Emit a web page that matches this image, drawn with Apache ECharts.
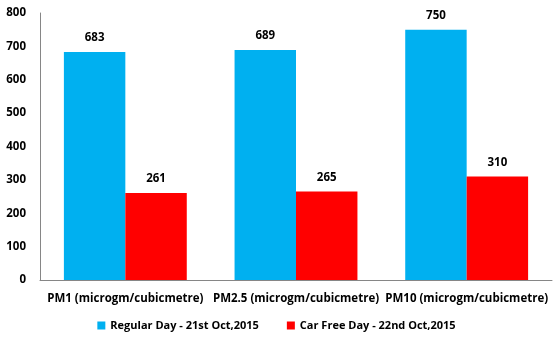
<!DOCTYPE html>
<html><head><meta charset="utf-8">
<script src="https://cdn.jsdelivr.net/npm/echarts@6/dist/echarts.min.js"></script>
<style>html,body{margin:0;padding:0;background:#fff}#c{width:553px;height:338px}</style>
</head><body><div id="c"></div>
<script>
const categories = ['PM1 (microgm/cubicmetre)', 'PM2.5 (microgm/cubicmetre)', 'PM10 (microgm/cubicmetre)'];
const regularDay = [683, 689, 750];
const carFreeDay = [261, 265, 310];
const seriesNames = ['Regular Day - 21st Oct,2015', 'Car Free Day - 22nd Oct,2015'];
const yTicks = {min: 0, max: 800, interval: 100};

const font = '"Open Sans", "DejaVu Sans", sans-serif';
const chart = echarts.init(document.getElementById('c'));
chart.setOption({
  animation: false,
  textStyle: {fontFamily: font},
  grid: {left: 40, right: 1, top: 13, bottom: 58, containLabel: false},
  legend: {
    bottom: 2, left: 'center', itemWidth: 8, itemHeight: 8, itemGap: 28,
    icon: 'rect',
    textStyle: {fontFamily: font, fontWeight: 'bold', fontSize: 11, color: '#000'},
    data: seriesNames
  },
  xAxis: {
    type: 'category', data: categories,
    axisLine: {lineStyle: {color: '#868686'}},
    axisTick: {show: false},
    axisLabel: {color: '#000', fontWeight: 'bold', fontSize: 11.5, margin: 13, interval: 0, fontFamily: font}
  },
  yAxis: {
    type: 'value', min: yTicks.min, max: yTicks.max, interval: yTicks.interval,
    axisLine: {show: true, lineStyle: {color: '#868686'}},
    axisTick: {show: false},
    splitLine: {show: false},
    axisLabel: {color: '#000', fontWeight: 'bold', fontSize: 11.5, margin: 14, fontFamily: font}
  },
  series: [
    {name: seriesNames[0], type: 'bar', data: regularDay, barGap: '0%', barCategoryGap: '28%',
     itemStyle: {color: '#00B0F0'},
     label: {show: true, position: 'top', distance: 8, color: '#000', fontWeight: 'bold', fontSize: 11.5, fontFamily: font}},
    {name: seriesNames[1], type: 'bar', data: carFreeDay, barGap: '0%', barCategoryGap: '28%',
     itemStyle: {color: '#FF0000'},
     label: {show: true, position: 'top', distance: 8, color: '#000', fontWeight: 'bold', fontSize: 11.5, fontFamily: font}}
  ]
});
</script></body></html>
